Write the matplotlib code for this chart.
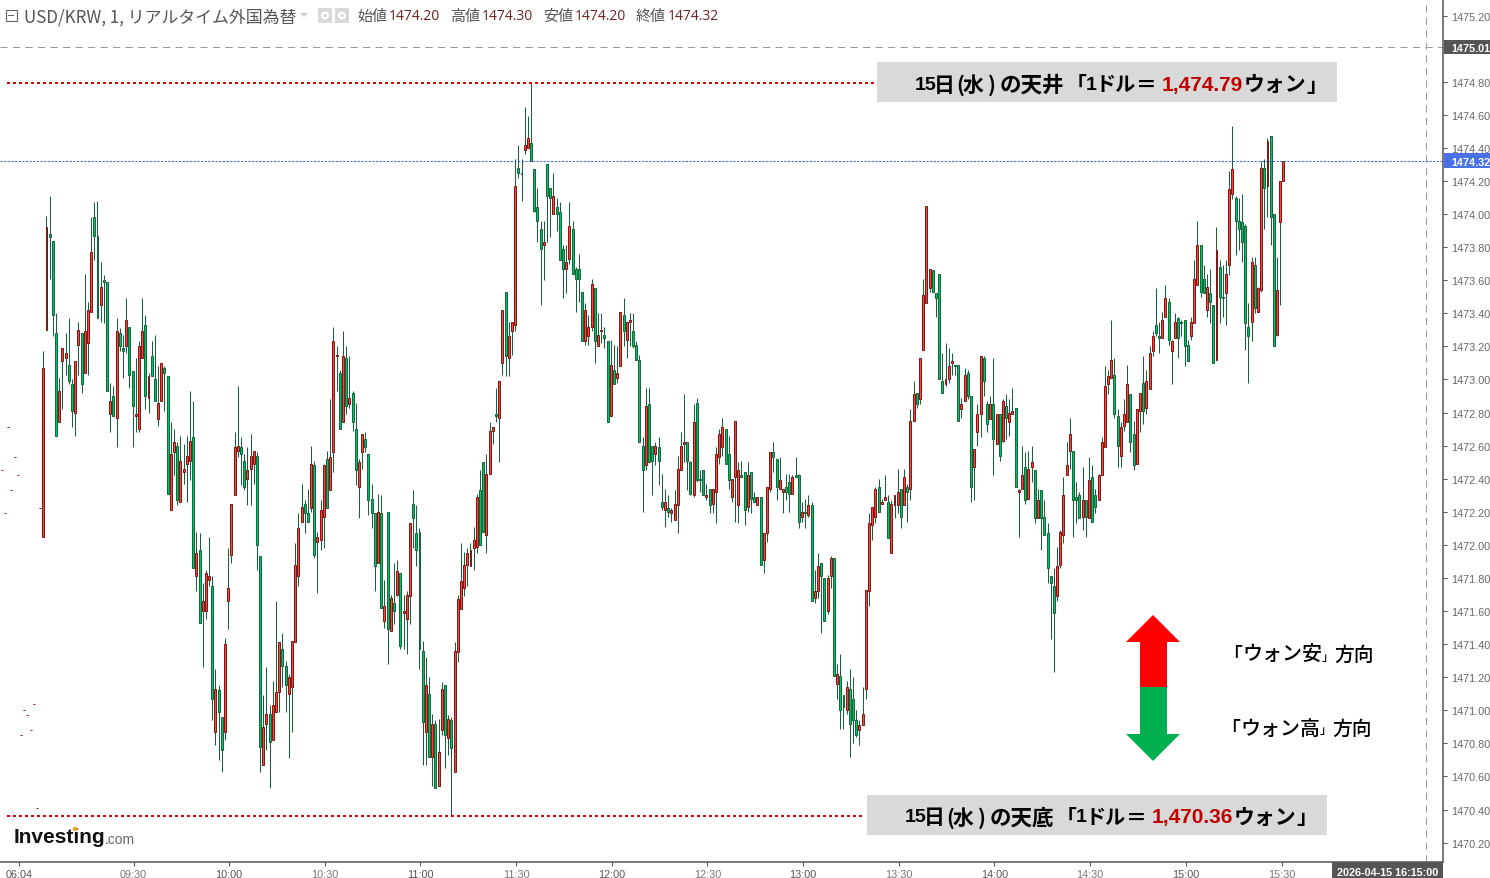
"""USD/KRW 1-minute candlestick chart, 15 April 2026."""

import matplotlib
matplotlib.use("Agg")
import matplotlib.pyplot as plt
from matplotlib.lines import Line2D
from matplotlib.patches import Ellipse, Polygon, Rectangle

WIDTH, HEIGHT = 1490, 879
CJK = ["Noto Sans CJK JP", "DejaVu Sans"]
SANS = "Liberation Sans"

PRICE_BASE = 1470.0

# offsets from PRICE_BASE, one value per one-minute bar
opens = [
    2.45, 2.19, 2.71, 2.33, 2.53, 2.42, 0.85, 1.00, 0.97, 0.88, 1.04, 0.41, 2.22,
    2.05, 3.30, 3.88, 3.84, 3.28, 2.74, 3.11, 3.13, 3.09, 2.97,
    2.80, 3.21, 3.28, 3.04, 3.22, 3.41, 3.98, 3.87, 3.45, 3.60,
    3.59, 2.79, 2.90, 2.77, 3.28, 3.19, 3.20, 3.32, 3.05, 2.78,
    2.70, 3.13, 3.33, 2.89, 3.14, 3.00, 2.76, 2.87, 3.07, 3.02,
    2.21, 2.56, 2.60, 2.26, 2.44, 2.49, 2.51, 2.65, 1.81, 1.97,
    1.60, 1.60, 1.79, 1.75, 0.87, 1.12, 0.96, 0.87, 1.66, 1.94,
    2.30, 2.57, 2.59, 2.51, 2.40, 2.46, 2.49, 2.54, 1.93, 0.67,
    0.92, 0.98, 0.82, 0.99, 1.11, 1.37, 1.27, 1.10, 1.14, 1.41,
    1.81, 2.14, 2.25, 2.19, 2.22, 2.48, 2.02, 2.03, 2.17, 2.52,
    2.33, 2.56, 3.14, 3.04, 2.74, 3.13, 2.85, 2.92, 2.70, 2.35,
    2.56, 2.64, 2.55, 2.28, 2.19, 1.89, 2.19, 1.54, 2.20, 1.48,
    1.65, 1.70, 1.83, 1.59, 1.55, 1.69, 2.25, 2.07, 2.08, 1.36,
    0.87, 1.10, 0.72, 0.92, 0.54, 0.88, 1.15, 0.83, 0.94, 0.63,
    1.35, 1.61, 1.74, 1.88, 1.87, 1.98, 1.99, 2.33, 2.50, 2.06,
    2.43, 2.69, 2.79, 2.77, 3.10, 3.53, 3.13, 3.29, 3.33, 4.28,
    4.25, 4.39, 4.40, 4.43, 4.27, 4.04, 3.91, 3.81, 4.30, 4.16,
    4.00, 4.04, 4.01, 3.79, 3.67, 3.73, 3.91, 3.67, 3.67, 3.53,
    3.23, 3.26, 3.32, 3.55, 3.20, 3.29, 3.27, 3.23, 2.78, 3.06,
    3.01, 3.08, 3.39, 3.24, 3.35, 3.29, 3.21, 3.12, 2.60, 2.48,
    2.85, 2.60, 2.55, 2.59, 2.26, 2.21, 2.22, 2.19, 2.15, 2.24,
    2.45, 2.61, 2.62, 2.50, 2.30, 2.86, 2.40, 2.45, 2.29, 2.34,
    2.25, 2.32, 2.53, 2.59, 2.70, 2.55, 2.29, 2.41, 2.24, 2.42,
    2.44, 2.23, 2.44, 2.29, 2.24, 2.29, 1.91, 2.07, 2.34, 2.56,
    2.52, 2.34, 2.32, 2.35, 2.38, 2.31, 2.42, 2.42, 2.17, 2.20,
    2.18, 2.24, 1.68, 1.72, 1.89, 1.80, 1.60, 1.81, 1.92, 1.16,
    1.21, 1.09, 1.00, 1.13, 1.07, 0.94, 0.88, 0.91, 1.13, 1.72,
    2.12, 2.17, 2.35, 2.25, 2.27, 2.26, 1.95, 2.24, 2.24, 2.34,
    2.24, 2.35, 2.34, 2.75, 2.92, 2.88, 3.18, 3.46, 3.55, 3.66,
    3.52, 3.64, 2.99, 2.97, 3.00, 3.10, 3.09, 3.09, 2.82, 2.87,
    3.04, 2.90, 2.47, 2.68, 2.79, 3.13, 2.85, 2.76, 2.85, 2.61,
    2.79, 2.63, 2.84, 2.74, 2.79, 2.83, 2.32, 2.34, 2.47, 2.28,
    2.47, 2.45, 2.16, 2.33, 2.17, 2.07, 1.81, 1.75, 1.69, 1.88,
    2.06, 2.42, 2.57, 2.57, 2.29, 2.30, 2.17, 2.27, 2.16, 2.41,
    2.30, 2.27, 2.42, 2.59, 2.97, 3.01, 3.03, 2.78, 2.54, 2.72,
    2.74, 2.91, 2.67, 2.49, 2.81, 2.98, 2.83, 2.94, 3.17, 3.33,
    3.26, 3.25, 3.38, 3.47, 3.17, 3.25, 3.37, 3.35, 3.36, 3.21,
    3.26, 3.34, 3.57, 3.81, 3.61, 3.42, 3.52, 3.45, 3.12, 3.68,
    3.50, 3.52, 3.69, 4.12, 4.10, 3.96, 3.95, 3.93, 3.32, 3.35,
    3.69, 3.41, 3.54, 4.28, 4.17, 4.47, 4.00, 3.27, 3.95, 4.20,
]
closes = [
    2.45, 2.19, 2.71, 2.33, 2.53, 2.42, 0.85, 1.00, 0.97, 0.88, 1.04, 0.41, 2.22,
    3.07, 3.92, 3.86, 3.39, 2.66, 2.93, 3.19, 3.16, 2.99, 2.81,
    3.11, 3.30, 2.97, 3.29, 3.42, 3.77, 3.87, 3.37, 3.56, 3.59,
    2.93, 2.87, 2.78, 3.29, 3.20, 3.17, 3.36, 3.03, 2.84, 2.79,
    3.20, 3.29, 2.90, 3.02, 3.02, 2.87, 2.86, 3.10, 3.04, 2.31,
    2.55, 2.62, 2.27, 2.51, 2.46, 2.54, 2.63, 1.86, 1.95, 1.53,
    1.66, 1.83, 1.81, 1.07, 1.13, 0.99, 0.76, 1.40, 1.74, 2.25,
    2.59, 2.60, 2.55, 2.35, 2.45, 2.54, 2.57, 2.00, 0.78, 0.90,
    0.98, 0.81, 1.03, 1.11, 1.41, 1.27, 1.15, 1.20, 1.42, 1.88,
    2.10, 2.23, 2.19, 2.14, 2.49, 1.94, 2.05, 2.21, 2.48, 2.22,
    2.53, 3.23, 3.15, 2.70, 3.14, 2.84, 2.89, 2.74, 2.45, 2.50,
    2.67, 2.59, 2.27, 2.19, 1.87, 2.20, 1.62, 1.63, 1.49, 1.68,
    1.60, 1.84, 1.39, 1.60, 1.70, 2.13, 2.16, 1.97, 1.37, 0.93,
    1.15, 0.72, 0.92, 0.53, 0.75, 1.13, 0.85, 0.95, 0.77, 1.36,
    1.67, 1.78, 1.88, 1.95, 1.97, 2.03, 2.29, 2.00, 2.08, 2.43,
    2.69, 2.71, 2.78, 2.99, 3.42, 3.14, 3.26, 3.35, 4.17, 4.25,
    4.24, 4.42, 4.46, 4.32, 4.02, 3.96, 3.79, 3.83, 4.11, 4.10,
    4.11, 4.00, 3.72, 3.67, 3.71, 3.93, 3.64, 3.61, 3.61, 3.23,
    3.42, 3.32, 3.58, 3.23, 3.27, 3.30, 3.25, 2.74, 3.09, 2.97,
    3.04, 3.41, 3.29, 3.35, 3.36, 3.20, 3.12, 2.62, 2.45, 2.84,
    2.50, 2.51, 2.60, 2.51, 2.23, 2.26, 2.20, 2.21, 2.25, 2.46,
    2.60, 2.62, 2.51, 2.31, 2.74, 2.39, 2.39, 2.30, 2.30, 2.24,
    2.34, 2.55, 2.67, 2.71, 2.49, 2.39, 2.40, 2.75, 2.45, 2.41,
    2.21, 2.42, 2.28, 2.26, 2.29, 1.88, 2.07, 2.35, 2.56, 2.53,
    2.35, 2.39, 2.34, 2.32, 2.31, 2.41, 2.41, 2.14, 2.20, 2.19,
    2.24, 1.66, 1.72, 1.87, 1.81, 1.54, 1.80, 1.92, 1.21, 1.22,
    1.00, 1.02, 1.14, 0.92, 0.94, 0.85, 0.91, 0.98, 1.73, 2.13,
    2.23, 2.34, 2.20, 2.26, 2.29, 2.04, 2.25, 2.30, 2.32, 2.17,
    2.41, 2.32, 2.75, 2.91, 2.85, 3.13, 3.51, 4.05, 3.67, 3.53,
    3.49, 3.00, 2.92, 3.00, 3.08, 3.11, 3.08, 2.75, 2.85, 3.03,
    2.90, 2.35, 2.58, 2.79, 3.14, 2.99, 2.73, 2.85, 2.64, 2.79,
    2.54, 2.87, 2.77, 2.80, 2.81, 2.35, 2.33, 2.42, 2.27, 2.46,
    2.50, 2.16, 2.27, 2.16, 2.06, 1.86, 1.77, 1.59, 1.87, 2.08,
    2.30, 2.48, 2.67, 2.27, 2.27, 2.16, 2.27, 2.17, 2.39, 2.14,
    2.23, 2.42, 2.62, 2.96, 3.02, 3.12, 2.79, 2.60, 2.71, 2.79,
    2.97, 2.62, 2.48, 2.82, 2.92, 2.81, 2.99, 3.16, 3.26, 3.28,
    3.25, 3.36, 3.49, 3.24, 3.23, 3.35, 3.25, 3.34, 3.20, 3.11,
    3.35, 3.61, 3.81, 3.53, 3.52, 3.56, 3.47, 3.10, 3.78, 3.50,
    3.49, 3.64, 4.15, 4.27, 3.96, 3.91, 3.83, 3.34, 3.26, 3.71,
    3.43, 3.55, 4.28, 4.16, 4.44, 3.98, 3.20, 3.54, 4.20, 4.32,
]
highs = [
    2.45, 2.19, 2.71, 2.33, 2.53, 2.42, 0.85, 1.00, 0.97, 0.88, 1.04, 0.41, 2.22,
    3.17, 3.99, 4.11, 3.84, 3.40, 3.01, 3.19, 3.28, 3.37, 3.00,
    3.11, 3.35, 3.28, 3.64, 3.47, 3.98, 4.07, 4.08, 3.71, 3.63,
    3.59, 2.98, 2.96, 3.37, 3.31, 3.27, 3.49, 3.32, 3.05, 3.13,
    3.23, 3.49, 3.39, 3.04, 3.23, 3.27, 3.08, 3.10, 3.08, 3.02,
    2.74, 2.70, 2.62, 2.66, 2.61, 2.66, 2.93, 2.87, 2.08, 2.07,
    1.77, 1.85, 2.05, 1.81, 1.25, 1.15, 0.96, 1.44, 1.98, 2.25,
    2.68, 2.96, 2.65, 2.55, 2.59, 2.67, 2.57, 2.56, 1.93, 1.09,
    1.26, 1.03, 1.18, 1.66, 1.41, 1.47, 1.30, 1.22, 1.42, 2.01,
    2.19, 2.37, 2.27, 2.34, 2.60, 2.51, 2.08, 2.27, 2.49, 2.57,
    2.88, 3.32, 3.20, 3.06, 3.29, 3.20, 3.14, 2.93, 2.86, 2.52,
    2.67, 2.68, 2.55, 2.37, 2.19, 2.31, 2.30, 1.79, 2.20, 1.70,
    1.89, 1.91, 1.83, 1.70, 1.72, 2.13, 2.33, 2.24, 2.10, 1.42,
    1.32, 1.20, 0.98, 0.94, 0.95, 1.17, 1.15, 0.97, 0.96, 1.41,
    1.70, 2.01, 1.96, 1.98, 2.01, 2.11, 2.31, 2.45, 2.50, 2.55,
    2.74, 2.71, 2.95, 2.99, 3.42, 3.53, 3.35, 3.35, 4.33, 4.42,
    4.33, 4.65, 4.59, 4.79, 4.27, 4.16, 3.96, 3.96, 4.30, 4.16,
    4.25, 4.10, 4.07, 3.81, 3.81, 4.07, 3.96, 3.68, 3.76, 3.53,
    3.46, 3.39, 3.61, 3.55, 3.40, 3.40, 3.32, 3.23, 3.24, 3.21,
    3.20, 3.41, 3.49, 3.35, 3.40, 3.40, 3.23, 3.15, 2.65, 2.95,
    2.95, 2.60, 2.62, 2.65, 2.43, 2.34, 2.30, 2.22, 2.33, 2.54,
    2.68, 2.91, 2.62, 2.51, 2.85, 2.89, 2.45, 2.45, 2.37, 2.34,
    2.34, 2.59, 2.70, 2.77, 2.70, 2.66, 2.40, 2.75, 2.50, 2.51,
    2.44, 2.50, 2.44, 2.32, 2.29, 2.29, 2.07, 2.35, 2.56, 2.62,
    2.52, 2.53, 2.34, 2.43, 2.43, 2.42, 2.53, 2.43, 2.26, 2.28,
    2.30, 2.26, 1.85, 1.95, 1.89, 1.80, 1.82, 1.93, 1.92, 1.28,
    1.34, 1.09, 1.18, 1.25, 1.20, 1.00, 0.94, 1.14, 1.73, 2.19,
    2.23, 2.35, 2.40, 2.28, 2.42, 2.30, 2.27, 2.30, 2.46, 2.34,
    2.46, 2.37, 2.82, 2.99, 2.92, 3.13, 3.61, 4.05, 3.67, 3.66,
    3.52, 3.64, 3.16, 3.22, 3.19, 3.16, 3.09, 3.09, 2.89, 3.07,
    3.06, 2.90, 2.58, 2.85, 3.14, 3.14, 2.87, 2.90, 3.13, 2.79,
    2.79, 2.88, 2.91, 2.88, 2.95, 2.83, 2.34, 2.60, 2.56, 2.57,
    2.60, 2.45, 2.34, 2.33, 2.27, 2.13, 1.81, 1.86, 1.99, 2.09,
    2.41, 2.62, 2.77, 2.57, 2.38, 2.32, 2.47, 2.27, 2.53, 2.48,
    2.34, 2.43, 2.65, 3.08, 3.06, 3.36, 3.13, 2.82, 2.74, 2.88,
    3.09, 2.91, 2.75, 2.82, 2.92, 3.14, 3.06, 3.20, 3.29, 3.55,
    3.35, 3.41, 3.57, 3.49, 3.24, 3.40, 3.38, 3.36, 3.36, 3.24,
    3.38, 3.72, 3.96, 3.81, 3.69, 3.64, 3.67, 3.45, 3.92, 3.72,
    3.69, 3.72, 4.26, 4.53, 4.11, 4.10, 4.12, 3.94, 3.46, 3.74,
    3.74, 3.56, 4.32, 4.33, 4.46, 4.47, 4.00, 3.74, 4.20, 4.32,
]
lows = [
    2.45, 2.19, 2.71, 2.33, 2.53, 2.42, 0.85, 1.00, 0.97, 0.88, 1.04, 0.41, 2.22,
    2.05, 3.30, 3.61, 3.26, 2.66, 2.74, 2.82, 3.03, 2.97, 2.71,
    2.66, 3.03, 2.92, 3.04, 3.03, 3.41, 3.72, 3.37, 3.35, 3.34,
    2.93, 2.68, 2.78, 2.59, 3.17, 3.01, 3.16, 2.95, 2.59, 2.68,
    2.68, 3.13, 2.82, 2.80, 3.02, 2.87, 2.72, 2.87, 2.81, 2.31,
    2.21, 2.42, 2.24, 2.26, 2.37, 2.26, 2.39, 1.86, 1.72, 1.53,
    1.26, 1.55, 1.75, 0.94, 0.79, 0.70, 0.63, 0.82, 1.49, 1.89,
    2.30, 2.53, 2.36, 2.33, 2.24, 2.24, 2.37, 1.85, 0.63, 0.67,
    0.76, 0.53, 0.82, 0.99, 0.99, 1.14, 0.99, 0.71, 0.87, 1.41,
    1.75, 2.14, 2.07, 2.14, 2.20, 1.92, 1.71, 1.97, 1.98, 2.22,
    2.33, 2.44, 2.93, 2.70, 2.74, 2.79, 2.83, 2.69, 2.36, 2.16,
    2.46, 2.56, 2.18, 2.10, 1.72, 1.89, 1.62, 1.50, 1.28, 1.48,
    1.52, 1.69, 1.37, 1.37, 1.34, 1.52, 1.98, 1.87, 1.25, 0.67,
    0.67, 0.72, 0.54, 0.53, 0.54, 0.85, 0.65, 0.73, 0.36, 0.63,
    1.29, 1.61, 1.69, 1.75, 1.87, 1.85, 1.95, 2.00, 2.08, 1.95,
    2.43, 2.61, 2.74, 2.50, 3.03, 3.02, 3.02, 3.15, 3.29, 4.22,
    4.08, 4.36, 4.40, 4.32, 4.01, 3.83, 3.45, 3.60, 3.83, 3.86,
    4.00, 3.90, 3.72, 3.49, 3.52, 3.70, 3.64, 3.41, 3.47, 3.23,
    3.21, 3.21, 3.29, 3.10, 3.20, 3.22, 3.19, 2.74, 2.78, 2.97,
    2.98, 3.08, 3.20, 3.13, 3.20, 3.19, 3.12, 2.62, 2.20, 2.45,
    2.50, 2.30, 2.48, 2.36, 2.21, 2.11, 2.17, 2.14, 2.15, 2.07,
    2.45, 2.50, 2.33, 2.30, 2.29, 2.38, 2.32, 2.30, 2.27, 2.19,
    2.19, 2.13, 2.49, 2.54, 2.49, 2.34, 2.26, 2.14, 2.13, 2.41,
    2.12, 2.20, 2.19, 2.26, 2.24, 1.88, 1.83, 2.02, 2.32, 2.44,
    2.27, 2.34, 2.19, 2.27, 2.20, 2.31, 2.41, 2.10, 2.14, 2.10,
    2.17, 1.66, 1.65, 1.68, 1.47, 1.54, 1.58, 1.74, 1.21, 1.07,
    0.89, 0.89, 0.98, 0.72, 0.80, 0.84, 0.79, 0.91, 1.07, 1.63,
    2.03, 2.13, 2.20, 2.25, 2.27, 2.04, 1.95, 2.16, 2.19, 2.10,
    2.24, 2.14, 2.27, 2.75, 2.83, 2.85, 3.18, 3.46, 3.53, 3.53,
    3.38, 3.00, 2.92, 2.96, 2.98, 3.03, 3.03, 2.75, 2.77, 2.87,
    2.88, 2.26, 2.27, 2.60, 2.65, 2.90, 2.68, 2.76, 2.42, 2.61,
    2.51, 2.62, 2.64, 2.66, 2.79, 2.35, 2.05, 2.34, 2.25, 2.28,
    2.38, 2.13, 2.16, 1.97, 2.06, 1.77, 1.43, 1.23, 1.66, 1.86,
    2.01, 2.42, 2.46, 2.05, 2.13, 2.16, 2.09, 2.05, 2.16, 2.14,
    2.19, 2.27, 2.42, 2.59, 2.91, 3.01, 2.77, 2.47, 2.47, 2.69,
    2.74, 2.56, 2.45, 2.49, 2.68, 2.73, 2.79, 2.94, 3.14, 3.26,
    3.16, 3.25, 3.38, 3.21, 2.97, 3.25, 3.13, 3.26, 3.08, 3.11,
    3.24, 3.34, 3.57, 3.50, 3.52, 3.38, 3.34, 3.10, 3.12, 3.34,
    3.38, 3.33, 3.63, 4.09, 3.75, 3.78, 3.71, 3.18, 2.98, 3.23,
    3.40, 3.41, 3.53, 3.91, 3.98, 3.81, 3.20, 3.26, 3.45, 4.20,
]

price_ticks = [1470.2 + 0.2 * k for k in range(26)]
time_labels = ["06:04", "09:30", "10:00", "10:30", "11:00", "11:30", "12:00",
               "12:30", "13:00", "13:30", "14:00", "14:30", "15:00", "15:30"]
time_positions = [5.47, 41.3, 71.3, 101.3, 131.3, 161.3, 191.3,
                  221.3, 251.3, 281.3, 311.3, 341.3, 371.3, 401.4]
strong_labels = ["06:04", "10:00", "11:00", "12:00", "13:00", "14:00", "15:00"]

SESSION_HIGH = 1475.01
LAST_PRICE = 1474.32
CROSSHAIR_BAR = 446.6

RED_FILL, RED_EDGE = "#ff4436", "#7a1c1c"
GREEN_FILL, GREEN_EDGE = "#00c463", "#17663f"
WICK = "#1c5e3e"


def fx(x):
    return x / WIDTH


def fy(y):
    return 1 - y / HEIGHT


def rect(fig, x0, y0, x1, y1, color, zorder=2):
    fig.add_artist(Rectangle((fx(x0), fy(y1)), (x1 - x0) / WIDTH, (y1 - y0) / HEIGHT,
                             transform=fig.transFigure, facecolor=color,
                             edgecolor="none", zorder=zorder))


def dot(fig, x, y, size, color):
    fig.add_artist(Ellipse((fx(x), fy(y)), size / WIDTH, size / HEIGHT,
                           transform=fig.transFigure, facecolor=color,
                           edgecolor="none", zorder=6))


def label(fig, x, y, text, **kwargs):
    kwargs.setdefault("va", "center")
    kwargs.setdefault("zorder", 5)
    fig.text(fx(x), fy(y), text, **kwargs)


def draw_candles(ax):
    xs = list(range(len(opens)))
    prices_h = [PRICE_BASE + v for v in highs]
    prices_l = [PRICE_BASE + v for v in lows]
    ax.vlines(xs, prices_l, prices_h, color=WICK, linewidth=0.75, zorder=2)
    bottoms = [PRICE_BASE + min(o, c) for o, c in zip(opens, closes)]
    heights = [abs(c - o) for o, c in zip(opens, closes)]
    ups = [c >= o for o, c in zip(opens, closes)]
    ax.bar(xs, heights, bottom=bottoms, width=0.62,
           color=[RED_FILL if u else GREEN_FILL for u in ups],
           edgecolor=[RED_EDGE if u else GREEN_EDGE for u in ups],
           linewidth=0.72, zorder=3)


def draw_header(fig):
    fig.add_artist(Rectangle((fx(5.5), fy(22)), 11 / WIDTH, 11 / HEIGHT,
                             transform=fig.transFigure, facecolor="white",
                             edgecolor="#666666", linewidth=0.8, zorder=4))
    rect(fig, 8, 15.8, 14.5, 16.6, "#666666", zorder=5)
    label(fig, 24, 17, "USD/KRW, 1, リアルタイム外国為替", family=CJK,
          fontsize=12.2, color="#555555")
    fig.add_artist(Polygon([(fx(300), fy(14)), (fx(308), fy(14)), (fx(304), fy(18))],
                           transform=fig.transFigure, facecolor="#c8c8c8",
                           edgecolor="none", zorder=4))
    for x0 in (318, 335):
        rect(fig, x0, 9, x0 + 14, 24, "#d9d9d9", zorder=4)
        dot(fig, x0 + 7, 16.5, 8, "white")
        dot(fig, x0 + 7, 16.5, 3.5, "#d9d9d9")
    names = ["始値", "高値", "安値", "終値"]
    values = ["1474.20", "1474.30", "1474.20", "1474.32"]
    for x, name, value in zip((357, 450, 543, 636), names, values):
        label(fig, x, 17, name, family=CJK, fontsize=10.8, color="#555555")
        label(fig, x + 32, 17, value, family="Open Sans", fontsize=10, color="#6b2222")


def draw_callout_text(fig, dx, y, word, number):
    """One grey box line, placed piece by piece to keep the source's tight spacing."""
    bold = dict(family=CJK, fontweight="bold", color="black")
    latin = dict(family=SANS, fontweight="bold", color="black")
    label(fig, 915 + dx, y, "15", fontsize=14, **latin)
    label(fig, 934 + dx, y, "日", fontsize=15, **bold)
    label(fig, 956 + dx, y, "(", fontsize=15, **bold)
    label(fig, 963 + dx, y, "水", fontsize=15, **bold)
    label(fig, 988 + dx, y, ")", fontsize=15, **bold)
    label(fig, 1000 + dx, y, "の" + word, fontsize=15.5, **bold)
    label(fig, 1065.5 + dx, y, "「", fontsize=15, **bold)
    label(fig, 1086 + dx, y, "1", fontsize=14, **latin)
    label(fig, 1096 + dx, y, "ドル", fontsize=14.5, **bold)
    label(fig, 1136 + dx, y, "＝", fontsize=15, **bold)
    label(fig, 1161.5 + dx, y, number, family=SANS, fontweight="bold", fontsize=15, color="#c00000")
    label(fig, 1244 + dx, y, "ウォン", fontsize=15, **bold)
    label(fig, 1306 + dx, y, "」", fontsize=15, **bold)


def draw_direction_text(fig, dx, y, word):
    kw = dict(family=CJK, fontweight="medium", color="black")
    label(fig, 1222 + dx, y, "「", fontsize=14.4, **kw)
    label(fig, 1242 + dx, y, "ウォン" + word, fontsize=14.4, **kw)
    label(fig, 1322 + dx, y + 2, "」", fontsize=8.5, **kw)
    label(fig, 1334 + dx, y, "方向", fontsize=14.2, **kw)


def draw_callouts(fig):
    for y, x1 in ((83.5, 875), (816.5, 865)):
        fig.add_artist(Line2D([fx(7), fx(x1)], [fy(y), fy(y)], transform=fig.transFigure,
                              color="#e00000", linewidth=1.44, dashes=(1.5, 1.5),
                              dash_capstyle="butt", zorder=4))
    rect(fig, 877, 63, 1337, 103, "#d9d9d9")
    rect(fig, 867, 796, 1327, 836, "#d9d9d9")
    draw_callout_text(fig, 0, 85, "天井", "1,474.79")
    draw_callout_text(fig, -10, 818, "天底", "1,470.36")

    up = [(1153, 616), (1180, 643), (1167, 643), (1167, 688), (1140, 688), (1140, 643), (1126, 643)]
    down = [(1153, 762), (1180, 735), (1167, 735), (1167, 688), (1140, 688), (1140, 735), (1126, 735)]
    for pts, color in ((up, "#ff0000"), (down, "#00b050")):
        fig.add_artist(Polygon([(fx(x), fy(y)) for x, y in pts], transform=fig.transFigure,
                               facecolor=color, edgecolor="none", zorder=4))
    draw_direction_text(fig, 0, 655, "安")
    draw_direction_text(fig, -2, 729, "高")


def draw_logo(fig):
    label(fig, 14, 838, "Investing", family=SANS, fontweight="bold", fontsize=15, color="#111111")
    label(fig, 104.5, 840, ".com", family=SANS, fontsize=10, color="#666666")
    dot(fig, 75, 830, 4.5, "#f5a623")


def draw_tags(fig):
    rect(fig, 1444, 41, 1490, 55, "#555555", zorder=4)
    label(fig, 1451, 48.5, "1475.01", family=SANS, fontweight="bold", fontsize=7.8, color="white")
    rect(fig, 1444, 154, 1490, 169, "#4a72e8", zorder=4)
    label(fig, 1451, 162.5, "1474.32", family=SANS, fontweight="bold", fontsize=7.8, color="white")
    rect(fig, 1332, 863, 1443, 879, "#555555", zorder=4)
    label(fig, 1387.5, 873, "2026-04-15 16:15:00", family=SANS, fontweight="bold",
          fontsize=7.8, color="white", ha="center")


def main():
    fig = plt.figure(figsize=(WIDTH / 100, HEIGHT / 100), dpi=100)
    ax = fig.add_axes([0, fy(862.5), 1443 / WIDTH, 862.5 / HEIGHT])
    ax.set_xlim(-0.583, 452.05)
    ax.set_ylim(1470.086, 1475.30)

    draw_candles(ax)
    ax.axhline(SESSION_HIGH, color="#999999", linewidth=0.75, dashes=(7, 5), zorder=1)
    ax.axvline(CROSSHAIR_BAR, color="#999999", linewidth=0.75, dashes=(7, 5), zorder=1)
    ax.axhline(LAST_PRICE, color="#3f63dd", linewidth=0.75, dashes=(2, 1.5), zorder=4)

    ax.yaxis.tick_right()
    ax.set_yticks(price_ticks)
    ax.set_yticklabels([f"{p:.2f}" for p in price_ticks], family=SANS, fontsize=7.8, color="#666666")
    ax.tick_params(axis="y", length=3, width=0.75, color="#555555", pad=2.8)
    ax.set_xticks(time_positions)
    ax.set_xticklabels(time_labels, family=SANS, fontsize=7.8)
    for tick in ax.get_xticklabels():
        tick.set_color("#555555" if tick.get_text() in strong_labels else "#777777")
    ax.tick_params(axis="x", length=3, width=0.75, color="#555555", pad=2.5)
    for side in ("top", "left"):
        ax.spines[side].set_visible(False)
    for side in ("right", "bottom"):
        ax.spines[side].set_color("#555555")
        ax.spines[side].set_linewidth(1.1)

    draw_header(fig)
    draw_callouts(fig)
    draw_logo(fig)
    draw_tags(fig)

    fig.savefig("out.png", dpi=100, facecolor="white")
    plt.close(fig)


if __name__ == "__main__":
    main()
